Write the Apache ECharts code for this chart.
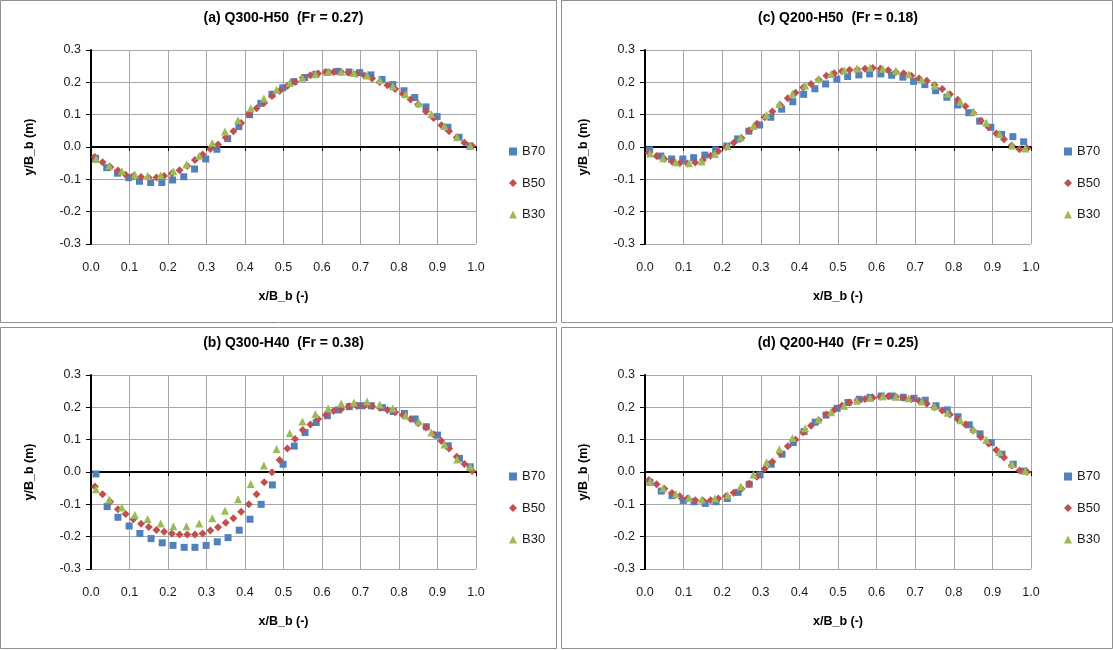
<!DOCTYPE html>
<html>
<head>
<meta charset="utf-8">
<script src="https://cdn.jsdelivr.net/npm/echarts@6/dist/echarts.min.js"></script>
<style>html,body{margin:0;padding:0;background:#fff}#c{width:1113px;height:650px}</style>
</head>
<body>
<div id="c"></div>
<script>
// ---------- data ----------
const panelTitles = ['(a) Q300-H50  (Fr = 0.27)', '(b) Q300-H40  (Fr = 0.38)', '(c) Q200-H50  (Fr = 0.18)', '(d) Q200-H40  (Fr = 0.25)'];
const seriesNames = ['B70', 'B50', 'B30'];
const xTickLabels = ['0.0','0.1','0.2','0.3','0.4','0.5','0.6','0.7','0.8','0.9','1.0'];
const yTickLabels = ['-0.3','-0.2','-0.1','0.0','0.1','0.2','0.3'];
const xAxisName = 'x/B_b (-)';
const yAxisName = 'y/B_b (m)';

// (a) Q300-H50
const xB70_a = [0.012,0.041,0.069,0.098,0.126,0.155,0.184,0.212,0.241,0.269,0.298,0.327,0.355,0.384,0.412,0.441,0.470,0.498,0.527,0.555,0.584,0.613,0.641,0.670,0.698,0.727,0.756,0.784,0.813,0.841,0.870,0.899,0.927,0.956,0.984];
const yB70_a = [-0.035,-0.064,-0.081,-0.095,-0.106,-0.110,-0.110,-0.102,-0.092,-0.068,-0.037,-0.007,0.026,0.063,0.100,0.135,0.163,0.183,0.202,0.215,0.225,0.231,0.234,0.232,0.230,0.223,0.209,0.193,0.174,0.153,0.124,0.094,0.061,0.030,0.003];
const xB50_a = [0.01,0.03,0.05,0.07,0.09,0.11,0.13,0.15,0.17,0.19,0.21,0.23,0.25,0.27,0.29,0.31,0.33,0.35,0.37,0.39,0.41,0.43,0.45,0.47,0.49,0.51,0.53,0.55,0.57,0.59,0.61,0.63,0.65,0.67,0.69,0.71,0.73,0.75,0.77,0.79,0.81,0.83,0.85,0.87,0.89,0.91,0.93,0.95,0.97,0.99];
const yB50_a = [-0.031,-0.047,-0.062,-0.073,-0.086,-0.090,-0.093,-0.095,-0.094,-0.090,-0.082,-0.072,-0.059,-0.040,-0.023,-0.006,0.008,0.029,0.049,0.074,0.102,0.120,0.137,0.158,0.173,0.189,0.202,0.214,0.222,0.227,0.231,0.232,0.232,0.230,0.226,0.221,0.212,0.201,0.191,0.179,0.164,0.147,0.132,0.110,0.090,0.067,0.049,0.029,0.013,0.003];
const xB30_a = [0.013,0.047,0.080,0.114,0.147,0.181,0.214,0.248,0.281,0.315,0.348,0.382,0.415,0.449,0.482,0.516,0.549,0.583,0.616,0.650,0.683,0.717,0.750,0.784,0.817,0.851,0.884,0.918,0.951,0.985];
const yB30_a = [-0.037,-0.058,-0.075,-0.085,-0.090,-0.087,-0.075,-0.054,-0.027,0.012,0.048,0.083,0.120,0.150,0.177,0.198,0.214,0.225,0.232,0.233,0.229,0.221,0.207,0.188,0.163,0.135,0.102,0.065,0.030,0.003];

// (b) Q300-H40
const xB70_b = [0.013,0.042,0.070,0.099,0.127,0.156,0.185,0.213,0.242,0.270,0.299,0.328,0.356,0.385,0.413,0.442,0.471,0.499,0.528,0.556,0.585,0.614,0.642,0.671,0.699,0.728,0.757,0.785,0.814,0.842,0.871,0.900,0.928,0.957,0.985];
const yB70_b = [-0.006,-0.107,-0.140,-0.167,-0.190,-0.206,-0.219,-0.227,-0.233,-0.233,-0.227,-0.216,-0.203,-0.180,-0.146,-0.100,-0.040,0.024,0.080,0.122,0.153,0.174,0.192,0.202,0.205,0.205,0.199,0.187,0.181,0.164,0.140,0.114,0.081,0.042,0.016];
const xB50_b = [0.01,0.03,0.05,0.07,0.09,0.11,0.13,0.15,0.17,0.19,0.21,0.23,0.25,0.27,0.29,0.31,0.33,0.35,0.37,0.39,0.41,0.43,0.45,0.47,0.49,0.51,0.53,0.55,0.57,0.59,0.61,0.63,0.65,0.67,0.69,0.71,0.73,0.75,0.77,0.79,0.81,0.83,0.85,0.87,0.89,0.91,0.93,0.95,0.97,0.99];
const yB50_b = [-0.045,-0.069,-0.092,-0.115,-0.130,-0.146,-0.160,-0.170,-0.179,-0.185,-0.190,-0.193,-0.193,-0.193,-0.190,-0.181,-0.171,-0.157,-0.143,-0.123,-0.100,-0.069,-0.032,-0.001,0.037,0.073,0.102,0.130,0.147,0.164,0.176,0.189,0.195,0.203,0.205,0.205,0.203,0.199,0.192,0.185,0.176,0.164,0.151,0.138,0.116,0.096,0.073,0.047,0.025,0.003];
const xB30_b = [0.013,0.047,0.080,0.114,0.147,0.181,0.214,0.248,0.281,0.315,0.348,0.382,0.415,0.449,0.482,0.516,0.549,0.583,0.616,0.650,0.683,0.717,0.750,0.784,0.817,0.851,0.884,0.918,0.951,0.985];
const yB30_b = [-0.053,-0.085,-0.110,-0.133,-0.145,-0.159,-0.168,-0.168,-0.159,-0.143,-0.120,-0.084,-0.037,0.020,0.071,0.120,0.156,0.179,0.197,0.212,0.215,0.218,0.209,0.197,0.175,0.156,0.122,0.085,0.039,0.016];

// (c) Q200-H50
const xB70_c = [0.012,0.041,0.069,0.098,0.126,0.155,0.183,0.212,0.240,0.269,0.297,0.326,0.354,0.383,0.411,0.440,0.468,0.497,0.525,0.554,0.582,0.611,0.639,0.668,0.696,0.725,0.753,0.782,0.810,0.839,0.867,0.896,0.924,0.953,0.981];
const yB70_c = [-0.009,-0.028,-0.037,-0.037,-0.033,-0.025,-0.009,0.003,0.025,0.049,0.068,0.092,0.117,0.140,0.163,0.180,0.195,0.210,0.218,0.223,0.226,0.226,0.222,0.216,0.203,0.193,0.174,0.154,0.130,0.106,0.080,0.061,0.039,0.032,0.016];
const xB50_c = [0.01,0.03,0.05,0.07,0.09,0.11,0.13,0.15,0.17,0.19,0.21,0.23,0.25,0.27,0.29,0.31,0.33,0.35,0.37,0.39,0.41,0.43,0.45,0.47,0.49,0.51,0.53,0.55,0.57,0.59,0.61,0.63,0.65,0.67,0.69,0.71,0.73,0.75,0.77,0.79,0.81,0.83,0.85,0.87,0.89,0.91,0.93,0.95,0.97,0.99];
const yB50_c = [-0.018,-0.028,-0.037,-0.045,-0.050,-0.051,-0.048,-0.040,-0.027,-0.013,0.000,0.013,0.028,0.051,0.072,0.092,0.110,0.130,0.151,0.168,0.184,0.195,0.208,0.220,0.228,0.234,0.238,0.240,0.242,0.244,0.242,0.237,0.232,0.228,0.220,0.212,0.205,0.192,0.179,0.163,0.146,0.126,0.106,0.081,0.061,0.042,0.024,0.005,-0.007,-0.005];
const xB30_c = [0.013,0.047,0.080,0.114,0.147,0.181,0.214,0.248,0.281,0.315,0.348,0.382,0.415,0.449,0.482,0.516,0.549,0.583,0.616,0.650,0.683,0.717,0.750,0.784,0.817,0.851,0.884,0.918,0.951,0.985];
const yB30_c = [-0.020,-0.035,-0.047,-0.050,-0.045,-0.022,0.002,0.030,0.065,0.100,0.133,0.165,0.190,0.210,0.226,0.237,0.243,0.245,0.242,0.236,0.225,0.208,0.190,0.165,0.140,0.110,0.075,0.040,0.005,-0.005];

// (d) Q200-H40
const xB70_d = [0.013,0.042,0.070,0.099,0.127,0.156,0.184,0.213,0.241,0.270,0.298,0.327,0.355,0.384,0.412,0.441,0.469,0.498,0.526,0.555,0.583,0.612,0.640,0.669,0.697,0.726,0.754,0.783,0.811,0.840,0.868,0.897,0.925,0.954,0.982];
const yB70_d = [-0.032,-0.059,-0.073,-0.088,-0.092,-0.097,-0.092,-0.082,-0.063,-0.038,-0.009,0.024,0.055,0.091,0.125,0.154,0.176,0.197,0.215,0.225,0.231,0.235,0.235,0.231,0.228,0.222,0.205,0.192,0.171,0.146,0.118,0.091,0.055,0.024,0.003];
const xB50_d = [0.01,0.03,0.05,0.07,0.09,0.11,0.13,0.15,0.17,0.19,0.21,0.23,0.25,0.27,0.29,0.31,0.33,0.35,0.37,0.39,0.41,0.43,0.45,0.47,0.49,0.51,0.53,0.55,0.57,0.59,0.61,0.63,0.65,0.67,0.69,0.71,0.73,0.75,0.77,0.79,0.81,0.83,0.85,0.87,0.89,0.91,0.93,0.95,0.97,0.99];
const yB50_d = [-0.025,-0.038,-0.052,-0.065,-0.075,-0.082,-0.087,-0.088,-0.087,-0.082,-0.075,-0.064,-0.052,-0.036,-0.015,0.010,0.032,0.058,0.080,0.100,0.123,0.143,0.160,0.178,0.192,0.205,0.215,0.222,0.226,0.230,0.233,0.234,0.233,0.230,0.225,0.220,0.211,0.200,0.190,0.178,0.163,0.147,0.128,0.108,0.088,0.068,0.045,0.020,0.005,0.000];
const xB30_d = [0.013,0.047,0.080,0.114,0.147,0.181,0.214,0.248,0.281,0.315,0.348,0.382,0.415,0.449,0.482,0.516,0.549,0.583,0.616,0.650,0.683,0.717,0.750,0.784,0.817,0.851,0.884,0.918,0.951,0.985];
const yB30_d = [-0.030,-0.050,-0.068,-0.080,-0.085,-0.082,-0.072,-0.045,-0.008,0.030,0.070,0.105,0.135,0.162,0.185,0.205,0.220,0.229,0.234,0.233,0.228,0.218,0.203,0.183,0.160,0.132,0.100,0.062,0.025,0.003];

// ---------- build ----------
const panels = [
  {x:[xB70_a,xB50_a,xB30_a], y:[yB70_a,yB50_a,yB30_a]},
  {x:[xB70_b,xB50_b,xB30_b], y:[yB70_b,yB50_b,yB30_b]},
  {x:[xB70_c,xB50_c,xB30_c], y:[yB70_c,yB50_c,yB30_c]},
  {x:[xB70_d,xB50_d,xB30_d], y:[yB70_d,yB50_d,yB30_d]}
];
const FONT = 'Liberation Sans';
const colors = ['#4F81BD', '#C0504D', '#9BBB59'];
const symbols = ['rect', 'diamond', 'triangle'];
const symSizes = [7, 8, 8];
const gridBoxes = [
  {left: 91, top: 50, width: 385, height: 194},
  {left: 91, top: 375, width: 385, height: 194},
  {left: 645, top: 50, width: 386, height: 194},
  {left: 645, top: 375, width: 386, height: 194}
];
const frames = [
  {x: 0.5, y: 0.5, w: 556, h: 322},
  {x: 0.5, y: 327.5, w: 556, h: 321},
  {x: 561.5, y: 0.5, w: 551, h: 322},
  {x: 561.5, y: 327.5, w: 551, h: 321}
];
const fmt = v => { const r = Math.round(v * 10) / 10; return (Math.abs(r) < 1e-9 ? 0 : r).toFixed(1); };

const option = {
  backgroundColor: '#fff',
  animation: false,
  textStyle: {fontFamily: FONT},
  grid: [], xAxis: [], yAxis: [], series: [], legend: [], graphic: []
};

gridBoxes.forEach((g, i) => {
  option.grid.push(Object.assign({containLabel: false}, g));
  // bottom axis: labels and vertical gridlines
  option.xAxis.push({
    type: 'value', gridIndex: i, min: 0, max: 1, interval: 0.1, position: 'bottom',
    axisLine: {show: false, onZero: false}, axisTick: {show: false},
    axisLabel: {show: true, margin: 17, fontSize: 12.5, color: '#1a1a1a', fontFamily: FONT,
      formatter: v => xTickLabels[Math.round(v * 10)]},
    splitLine: {show: true, lineStyle: {color: '#a6a6a6', width: 1}}
  });
  // zero axis: black line with ticks
  option.xAxis.push({
    type: 'value', gridIndex: i, min: 0, max: 1, interval: 0.1, position: 'bottom',
    axisLine: {show: true, onZero: true, lineStyle: {color: '#000', width: 2}},
    axisTick: {show: true, length: 4, lineStyle: {color: '#000', width: 1}},
    axisLabel: {show: false}, splitLine: {show: false}
  });
  option.yAxis.push({
    type: 'value', gridIndex: i, min: -0.3, max: 0.3, interval: 0.1,
    axisLine: {show: true, onZero: false, lineStyle: {color: '#000', width: 2}},
    axisTick: {show: true, length: 5, lineStyle: {color: '#000', width: 1}},
    axisLabel: {margin: 10, fontSize: 12.5, color: '#1a1a1a', fontFamily: FONT,
      formatter: v => yTickLabels[Math.round((v + 0.3) * 10)] || fmt(v)},
    splitLine: {show: true, lineStyle: {color: '#a6a6a6', width: 1}}
  });
  const p = panels[i];
  seriesNames.forEach((name, s) => {
    option.series.push({
      type: 'scatter', name: name, xAxisIndex: 2 * i, yAxisIndex: i,
      symbol: symbols[s], symbolSize: symSizes[s],
      itemStyle: {color: colors[s], opacity: 1},
      data: p.x[s].map((xv, j) => [xv, p.y[s][j]]),
      z: 3 + s
    });
  });
  option.legend.push({
    data: seriesNames, orient: 'vertical', selectedMode: false,
    left: g.left + g.width + 33, top: g.top + 95,
    itemWidth: 8, itemHeight: 8, itemGap: 18.5, padding: 0,
    textStyle: {fontSize: 13, color: '#1a1a1a', fontFamily: FONT}
  });
  const f = frames[i];
  option.graphic.push({
    type: 'rect', shape: {x: f.x, y: f.y, width: f.w, height: f.h},
    style: {fill: null, stroke: '#8f8f8f', lineWidth: 1}, silent: true, z: -1
  });
  const cx = g.left + g.width / 2;
  option.graphic.push({
    type: 'text', x: cx, y: g.top - 32,
    style: {text: panelTitles[i], font: 'bold 14px "' + FONT + '"', fill: '#000', textAlign: 'center', textVerticalAlign: 'middle'}
  });
  option.graphic.push({
    type: 'text', x: cx, y: g.top + g.height + 53,
    style: {text: xAxisName, font: 'bold 12.5px "' + FONT + '"', fill: '#000', textAlign: 'center', textVerticalAlign: 'middle'}
  });
  option.graphic.push({
    type: 'text', x: g.left - 61, y: g.top + g.height / 2, rotation: Math.PI / 2,
    style: {text: yAxisName, font: 'bold 12.5px "' + FONT + '"', fill: '#000', textAlign: 'center', textVerticalAlign: 'middle'}
  });
});

const chart = echarts.init(document.getElementById('c'), null, {renderer: 'canvas'});
chart.setOption(option);
</script>
</body>
</html>
